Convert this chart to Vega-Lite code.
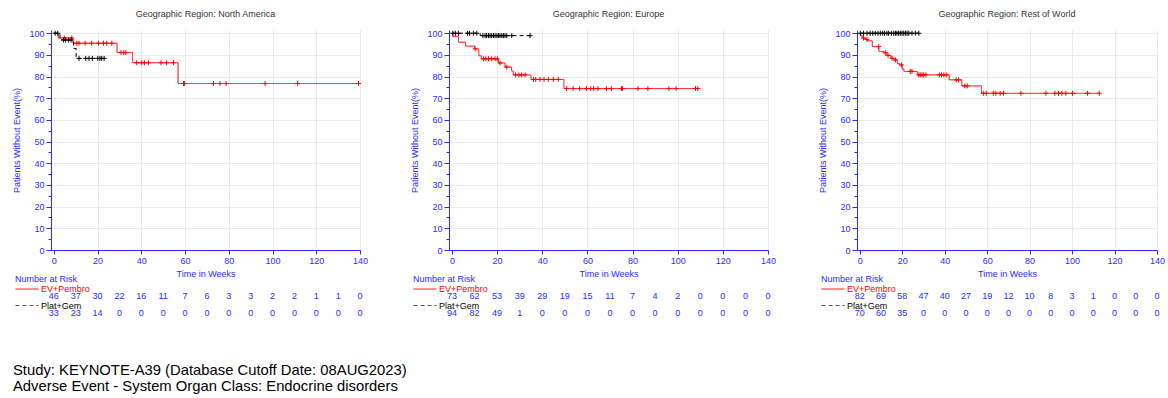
{
  "$schema": "https://vega.github.io/schema/vega-lite/v6.json",
  "background": "white",
  "padding": {"left": 12, "top": 9, "right": 0, "bottom": 0},
  "autosize": {"type": "pad"},
  "title": {
    "text": ["Study: KEYNOTE-A39 (Database Cutoff Date: 08AUG2023)", "Adverse Event - System Organ Class: Endocrine disorders"],
    "orient": "bottom", "anchor": "start", "fontSize": 14.8, "lineHeight": 15.5, "color": "#000000",
    "fontWeight": "normal", "font": "Liberation Sans", "offset": 41
  },
  "spacing": 42,
  "resolve": {"scale": {"x": "independent", "y": "independent", "color": "independent", "strokeDash": "independent"}},
  "datasets": {
    "km": [
      {"r": "NA", "arm": "EV+Pembro", "t": 0, "s": 100},
      {"r": "NA", "arm": "EV+Pembro", "t": 2.0, "s": 97.8},
      {"r": "NA", "arm": "EV+Pembro", "t": 8.7, "s": 95.4},
      {"r": "NA", "arm": "EV+Pembro", "t": 28.9, "s": 91.1},
      {"r": "NA", "arm": "EV+Pembro", "t": 36.0, "s": 86.4},
      {"r": "NA", "arm": "EV+Pembro", "t": 56.8, "s": 76.8},
      {"r": "NA", "arm": "EV+Pembro", "t": 139.3, "s": 76.8},
      {"r": "NA", "arm": "Plat+Gem", "t": 0, "s": 100},
      {"r": "NA", "arm": "Plat+Gem", "t": 2.8, "s": 96.9},
      {"r": "NA", "arm": "Plat+Gem", "t": 9.0, "s": 93.0},
      {"r": "NA", "arm": "Plat+Gem", "t": 10.2, "s": 88.4},
      {"r": "NA", "arm": "Plat+Gem", "t": 23.0, "s": 88.4},
      {"r": "EU", "arm": "EV+Pembro", "t": 0, "s": 100},
      {"r": "EU", "arm": "EV+Pembro", "t": 0.3, "s": 98.6},
      {"r": "EU", "arm": "EV+Pembro", "t": 2.9, "s": 95.9},
      {"r": "EU", "arm": "EV+Pembro", "t": 6.0, "s": 94.1},
      {"r": "EU", "arm": "EV+Pembro", "t": 10.0, "s": 92.8},
      {"r": "EU", "arm": "EV+Pembro", "t": 11.9, "s": 89.6},
      {"r": "EU", "arm": "EV+Pembro", "t": 13.0, "s": 88.2},
      {"r": "EU", "arm": "EV+Pembro", "t": 20.6, "s": 86.3},
      {"r": "EU", "arm": "EV+Pembro", "t": 23.5, "s": 84.4},
      {"r": "EU", "arm": "EV+Pembro", "t": 26.4, "s": 82.6},
      {"r": "EU", "arm": "EV+Pembro", "t": 27.2, "s": 80.8},
      {"r": "EU", "arm": "EV+Pembro", "t": 35.0, "s": 78.7},
      {"r": "EU", "arm": "EV+Pembro", "t": 49.6, "s": 74.5},
      {"r": "EU", "arm": "EV+Pembro", "t": 108.9, "s": 74.5},
      {"r": "EU", "arm": "Plat+Gem", "t": 0, "s": 100},
      {"r": "EU", "arm": "Plat+Gem", "t": 12.5, "s": 98.9},
      {"r": "EU", "arm": "Plat+Gem", "t": 34.6, "s": 98.9},
      {"r": "RW", "arm": "EV+Pembro", "t": 0, "s": 100},
      {"r": "RW", "arm": "EV+Pembro", "t": 0.4, "s": 98.8},
      {"r": "RW", "arm": "EV+Pembro", "t": 1.3, "s": 97.8},
      {"r": "RW", "arm": "EV+Pembro", "t": 2.5, "s": 97.2},
      {"r": "RW", "arm": "EV+Pembro", "t": 3.5, "s": 96.5},
      {"r": "RW", "arm": "EV+Pembro", "t": 5.9, "s": 93.9},
      {"r": "RW", "arm": "EV+Pembro", "t": 9.0, "s": 91.6},
      {"r": "RW", "arm": "EV+Pembro", "t": 11.4, "s": 91.0},
      {"r": "RW", "arm": "EV+Pembro", "t": 12.7, "s": 89.8},
      {"r": "RW", "arm": "EV+Pembro", "t": 14.6, "s": 88.5},
      {"r": "RW", "arm": "EV+Pembro", "t": 16.1, "s": 87.7},
      {"r": "RW", "arm": "EV+Pembro", "t": 17.7, "s": 86.0},
      {"r": "RW", "arm": "EV+Pembro", "t": 18.8, "s": 85.4},
      {"r": "RW", "arm": "EV+Pembro", "t": 20.0, "s": 83.6},
      {"r": "RW", "arm": "EV+Pembro", "t": 20.8, "s": 82.4},
      {"r": "RW", "arm": "EV+Pembro", "t": 27.1, "s": 80.8},
      {"r": "RW", "arm": "EV+Pembro", "t": 42.1, "s": 78.5},
      {"r": "RW", "arm": "EV+Pembro", "t": 48.1, "s": 75.7},
      {"r": "RW", "arm": "EV+Pembro", "t": 57.3, "s": 72.3},
      {"r": "RW", "arm": "EV+Pembro", "t": 112.8, "s": 72.3},
      {"r": "RW", "arm": "Plat+Gem", "t": 0, "s": 100},
      {"r": "RW", "arm": "Plat+Gem", "t": 27.8, "s": 100}
    ],
    "cens": [
      {"r": "NA", "arm": "EV+Pembro", "t": 4.8, "s": 97.8},
      {"r": "NA", "arm": "EV+Pembro", "t": 8.2, "s": 97.8},
      {"r": "NA", "arm": "EV+Pembro", "t": 10.5, "s": 95.4},
      {"r": "NA", "arm": "EV+Pembro", "t": 11.5, "s": 95.4},
      {"r": "NA", "arm": "EV+Pembro", "t": 14.3, "s": 95.4},
      {"r": "NA", "arm": "EV+Pembro", "t": 17.3, "s": 95.4},
      {"r": "NA", "arm": "EV+Pembro", "t": 20.4, "s": 95.4},
      {"r": "NA", "arm": "EV+Pembro", "t": 22.7, "s": 95.4},
      {"r": "NA", "arm": "EV+Pembro", "t": 24.2, "s": 95.4},
      {"r": "NA", "arm": "EV+Pembro", "t": 26.5, "s": 95.4},
      {"r": "NA", "arm": "EV+Pembro", "t": 30.7, "s": 91.1},
      {"r": "NA", "arm": "EV+Pembro", "t": 32.0, "s": 91.1},
      {"r": "NA", "arm": "EV+Pembro", "t": 32.9, "s": 91.1},
      {"r": "NA", "arm": "EV+Pembro", "t": 37.9, "s": 86.4},
      {"r": "NA", "arm": "EV+Pembro", "t": 40.2, "s": 86.4},
      {"r": "NA", "arm": "EV+Pembro", "t": 41.4, "s": 86.4},
      {"r": "NA", "arm": "EV+Pembro", "t": 43.3, "s": 86.4},
      {"r": "NA", "arm": "EV+Pembro", "t": 49.0, "s": 86.4},
      {"r": "NA", "arm": "EV+Pembro", "t": 51.6, "s": 86.4},
      {"r": "NA", "arm": "EV+Pembro", "t": 54.7, "s": 86.4},
      {"r": "NA", "arm": "EV+Pembro", "t": 59.3, "s": 76.8},
      {"r": "NA", "arm": "EV+Pembro", "t": 59.7, "s": 76.8},
      {"r": "NA", "arm": "EV+Pembro", "t": 73.0, "s": 76.8},
      {"r": "NA", "arm": "EV+Pembro", "t": 76.0, "s": 76.8},
      {"r": "NA", "arm": "EV+Pembro", "t": 78.8, "s": 76.8},
      {"r": "NA", "arm": "EV+Pembro", "t": 96.6, "s": 76.8},
      {"r": "NA", "arm": "EV+Pembro", "t": 111.5, "s": 76.8},
      {"r": "NA", "arm": "EV+Pembro", "t": 139.3, "s": 76.8},
      {"r": "NA", "arm": "Plat+Gem", "t": 0.6, "s": 100},
      {"r": "NA", "arm": "Plat+Gem", "t": 1.8, "s": 100},
      {"r": "NA", "arm": "Plat+Gem", "t": 4.4, "s": 96.9},
      {"r": "NA", "arm": "Plat+Gem", "t": 5.4, "s": 96.9},
      {"r": "NA", "arm": "Plat+Gem", "t": 6.7, "s": 96.9},
      {"r": "NA", "arm": "Plat+Gem", "t": 7.9, "s": 96.9},
      {"r": "NA", "arm": "Plat+Gem", "t": 11.5, "s": 88.4},
      {"r": "NA", "arm": "Plat+Gem", "t": 14.6, "s": 88.4},
      {"r": "NA", "arm": "Plat+Gem", "t": 16.1, "s": 88.4},
      {"r": "NA", "arm": "Plat+Gem", "t": 17.6, "s": 88.4},
      {"r": "NA", "arm": "Plat+Gem", "t": 20.1, "s": 88.4},
      {"r": "NA", "arm": "Plat+Gem", "t": 21.1, "s": 88.4},
      {"r": "NA", "arm": "Plat+Gem", "t": 21.9, "s": 88.4},
      {"r": "NA", "arm": "Plat+Gem", "t": 23.0, "s": 88.4},
      {"r": "EU", "arm": "EV+Pembro", "t": 10.3, "s": 92.8},
      {"r": "EU", "arm": "EV+Pembro", "t": 14.0, "s": 88.2},
      {"r": "EU", "arm": "EV+Pembro", "t": 15.0, "s": 88.2},
      {"r": "EU", "arm": "EV+Pembro", "t": 16.2, "s": 88.2},
      {"r": "EU", "arm": "EV+Pembro", "t": 17.6, "s": 88.2},
      {"r": "EU", "arm": "EV+Pembro", "t": 19.1, "s": 88.2},
      {"r": "EU", "arm": "EV+Pembro", "t": 20.1, "s": 88.2},
      {"r": "EU", "arm": "EV+Pembro", "t": 21.3, "s": 86.3},
      {"r": "EU", "arm": "EV+Pembro", "t": 24.3, "s": 84.4},
      {"r": "EU", "arm": "EV+Pembro", "t": 28.2, "s": 80.8},
      {"r": "EU", "arm": "EV+Pembro", "t": 29.7, "s": 80.8},
      {"r": "EU", "arm": "EV+Pembro", "t": 30.9, "s": 80.8},
      {"r": "EU", "arm": "EV+Pembro", "t": 32.4, "s": 80.8},
      {"r": "EU", "arm": "EV+Pembro", "t": 36.1, "s": 78.7},
      {"r": "EU", "arm": "EV+Pembro", "t": 37.1, "s": 78.7},
      {"r": "EU", "arm": "EV+Pembro", "t": 39.0, "s": 78.7},
      {"r": "EU", "arm": "EV+Pembro", "t": 40.8, "s": 78.7},
      {"r": "EU", "arm": "EV+Pembro", "t": 42.7, "s": 78.7},
      {"r": "EU", "arm": "EV+Pembro", "t": 44.9, "s": 78.7},
      {"r": "EU", "arm": "EV+Pembro", "t": 47.1, "s": 78.7},
      {"r": "EU", "arm": "EV+Pembro", "t": 50.8, "s": 74.5},
      {"r": "EU", "arm": "EV+Pembro", "t": 53.7, "s": 74.5},
      {"r": "EU", "arm": "EV+Pembro", "t": 56.6, "s": 74.5},
      {"r": "EU", "arm": "EV+Pembro", "t": 59.6, "s": 74.5},
      {"r": "EU", "arm": "EV+Pembro", "t": 61.5, "s": 74.5},
      {"r": "EU", "arm": "EV+Pembro", "t": 62.8, "s": 74.5},
      {"r": "EU", "arm": "EV+Pembro", "t": 64.7, "s": 74.5},
      {"r": "EU", "arm": "EV+Pembro", "t": 68.4, "s": 74.5},
      {"r": "EU", "arm": "EV+Pembro", "t": 70.6, "s": 74.5},
      {"r": "EU", "arm": "EV+Pembro", "t": 75.1, "s": 74.5},
      {"r": "EU", "arm": "EV+Pembro", "t": 75.5, "s": 74.5},
      {"r": "EU", "arm": "EV+Pembro", "t": 82.4, "s": 74.5},
      {"r": "EU", "arm": "EV+Pembro", "t": 86.8, "s": 74.5},
      {"r": "EU", "arm": "EV+Pembro", "t": 96.1, "s": 74.5},
      {"r": "EU", "arm": "EV+Pembro", "t": 99.3, "s": 74.5},
      {"r": "EU", "arm": "EV+Pembro", "t": 107.9, "s": 74.5},
      {"r": "EU", "arm": "EV+Pembro", "t": 108.9, "s": 74.5},
      {"r": "EU", "arm": "Plat+Gem", "t": 0.4, "s": 100},
      {"r": "EU", "arm": "Plat+Gem", "t": 1.5, "s": 100},
      {"r": "EU", "arm": "Plat+Gem", "t": 2.9, "s": 100},
      {"r": "EU", "arm": "Plat+Gem", "t": 6.9, "s": 100},
      {"r": "EU", "arm": "Plat+Gem", "t": 7.8, "s": 100},
      {"r": "EU", "arm": "Plat+Gem", "t": 9.5, "s": 100},
      {"r": "EU", "arm": "Plat+Gem", "t": 11.0, "s": 100},
      {"r": "EU", "arm": "Plat+Gem", "t": 13.7, "s": 98.9},
      {"r": "EU", "arm": "Plat+Gem", "t": 14.7, "s": 98.9},
      {"r": "EU", "arm": "Plat+Gem", "t": 15.4, "s": 98.9},
      {"r": "EU", "arm": "Plat+Gem", "t": 16.2, "s": 98.9},
      {"r": "EU", "arm": "Plat+Gem", "t": 16.9, "s": 98.9},
      {"r": "EU", "arm": "Plat+Gem", "t": 17.6, "s": 98.9},
      {"r": "EU", "arm": "Plat+Gem", "t": 18.4, "s": 98.9},
      {"r": "EU", "arm": "Plat+Gem", "t": 19.1, "s": 98.9},
      {"r": "EU", "arm": "Plat+Gem", "t": 19.9, "s": 98.9},
      {"r": "EU", "arm": "Plat+Gem", "t": 20.6, "s": 98.9},
      {"r": "EU", "arm": "Plat+Gem", "t": 21.3, "s": 98.9},
      {"r": "EU", "arm": "Plat+Gem", "t": 22.1, "s": 98.9},
      {"r": "EU", "arm": "Plat+Gem", "t": 22.8, "s": 98.9},
      {"r": "EU", "arm": "Plat+Gem", "t": 23.5, "s": 98.9},
      {"r": "EU", "arm": "Plat+Gem", "t": 24.3, "s": 98.9},
      {"r": "EU", "arm": "Plat+Gem", "t": 26.5, "s": 98.9},
      {"r": "EU", "arm": "Plat+Gem", "t": 34.6, "s": 98.9},
      {"r": "RW", "arm": "EV+Pembro", "t": 1.8, "s": 97.8},
      {"r": "RW", "arm": "EV+Pembro", "t": 3.4, "s": 97.2},
      {"r": "RW", "arm": "EV+Pembro", "t": 8.9, "s": 93.9},
      {"r": "RW", "arm": "EV+Pembro", "t": 12.0, "s": 91.0},
      {"r": "RW", "arm": "EV+Pembro", "t": 13.3, "s": 89.8},
      {"r": "RW", "arm": "EV+Pembro", "t": 15.2, "s": 88.5},
      {"r": "RW", "arm": "EV+Pembro", "t": 16.8, "s": 87.7},
      {"r": "RW", "arm": "EV+Pembro", "t": 19.6, "s": 85.4},
      {"r": "RW", "arm": "EV+Pembro", "t": 23.8, "s": 82.4},
      {"r": "RW", "arm": "EV+Pembro", "t": 24.6, "s": 82.4},
      {"r": "RW", "arm": "EV+Pembro", "t": 27.8, "s": 80.8},
      {"r": "RW", "arm": "EV+Pembro", "t": 28.5, "s": 80.8},
      {"r": "RW", "arm": "EV+Pembro", "t": 29.3, "s": 80.8},
      {"r": "RW", "arm": "EV+Pembro", "t": 30.1, "s": 80.8},
      {"r": "RW", "arm": "EV+Pembro", "t": 31.2, "s": 80.8},
      {"r": "RW", "arm": "EV+Pembro", "t": 37.5, "s": 80.8},
      {"r": "RW", "arm": "EV+Pembro", "t": 38.5, "s": 80.8},
      {"r": "RW", "arm": "EV+Pembro", "t": 39.6, "s": 80.8},
      {"r": "RW", "arm": "EV+Pembro", "t": 40.7, "s": 80.8},
      {"r": "RW", "arm": "EV+Pembro", "t": 45.4, "s": 78.5},
      {"r": "RW", "arm": "EV+Pembro", "t": 46.5, "s": 78.5},
      {"r": "RW", "arm": "EV+Pembro", "t": 49.5, "s": 75.7},
      {"r": "RW", "arm": "EV+Pembro", "t": 50.6, "s": 75.7},
      {"r": "RW", "arm": "EV+Pembro", "t": 58.2, "s": 72.3},
      {"r": "RW", "arm": "EV+Pembro", "t": 59.6, "s": 72.3},
      {"r": "RW", "arm": "EV+Pembro", "t": 62.9, "s": 72.3},
      {"r": "RW", "arm": "EV+Pembro", "t": 64.1, "s": 72.3},
      {"r": "RW", "arm": "EV+Pembro", "t": 66.1, "s": 72.3},
      {"r": "RW", "arm": "EV+Pembro", "t": 67.7, "s": 72.3},
      {"r": "RW", "arm": "EV+Pembro", "t": 75.9, "s": 72.3},
      {"r": "RW", "arm": "EV+Pembro", "t": 87.7, "s": 72.3},
      {"r": "RW", "arm": "EV+Pembro", "t": 91.9, "s": 72.3},
      {"r": "RW", "arm": "EV+Pembro", "t": 93.6, "s": 72.3},
      {"r": "RW", "arm": "EV+Pembro", "t": 95.2, "s": 72.3},
      {"r": "RW", "arm": "EV+Pembro", "t": 97.1, "s": 72.3},
      {"r": "RW", "arm": "EV+Pembro", "t": 100.2, "s": 72.3},
      {"r": "RW", "arm": "EV+Pembro", "t": 107.3, "s": 72.3},
      {"r": "RW", "arm": "EV+Pembro", "t": 112.8, "s": 72.3},
      {"r": "RW", "arm": "Plat+Gem", "t": 0.3, "s": 100},
      {"r": "RW", "arm": "Plat+Gem", "t": 1.8, "s": 100},
      {"r": "RW", "arm": "Plat+Gem", "t": 3.4, "s": 100},
      {"r": "RW", "arm": "Plat+Gem", "t": 4.9, "s": 100},
      {"r": "RW", "arm": "Plat+Gem", "t": 6.1, "s": 100},
      {"r": "RW", "arm": "Plat+Gem", "t": 7.3, "s": 100},
      {"r": "RW", "arm": "Plat+Gem", "t": 8.6, "s": 100},
      {"r": "RW", "arm": "Plat+Gem", "t": 9.7, "s": 100},
      {"r": "RW", "arm": "Plat+Gem", "t": 10.8, "s": 100},
      {"r": "RW", "arm": "Plat+Gem", "t": 11.7, "s": 100},
      {"r": "RW", "arm": "Plat+Gem", "t": 12.8, "s": 100},
      {"r": "RW", "arm": "Plat+Gem", "t": 13.6, "s": 100},
      {"r": "RW", "arm": "Plat+Gem", "t": 14.9, "s": 100},
      {"r": "RW", "arm": "Plat+Gem", "t": 16.0, "s": 100},
      {"r": "RW", "arm": "Plat+Gem", "t": 16.8, "s": 100},
      {"r": "RW", "arm": "Plat+Gem", "t": 17.5, "s": 100},
      {"r": "RW", "arm": "Plat+Gem", "t": 18.3, "s": 100},
      {"r": "RW", "arm": "Plat+Gem", "t": 19.1, "s": 100},
      {"r": "RW", "arm": "Plat+Gem", "t": 19.9, "s": 100},
      {"r": "RW", "arm": "Plat+Gem", "t": 20.7, "s": 100},
      {"r": "RW", "arm": "Plat+Gem", "t": 21.5, "s": 100},
      {"r": "RW", "arm": "Plat+Gem", "t": 22.3, "s": 100},
      {"r": "RW", "arm": "Plat+Gem", "t": 23.1, "s": 100},
      {"r": "RW", "arm": "Plat+Gem", "t": 24.6, "s": 100},
      {"r": "RW", "arm": "Plat+Gem", "t": 26.2, "s": 100},
      {"r": "RW", "arm": "Plat+Gem", "t": 27.8, "s": 100}
    ],
    "risk": [
      {"r": "NA", "arm": "EV+Pembro", "t": 0, "n": 46}, {"r": "NA", "arm": "EV+Pembro", "t": 10, "n": 37}, {"r": "NA", "arm": "EV+Pembro", "t": 20, "n": 30}, {"r": "NA", "arm": "EV+Pembro", "t": 30, "n": 22}, {"r": "NA", "arm": "EV+Pembro", "t": 40, "n": 16}, {"r": "NA", "arm": "EV+Pembro", "t": 50, "n": 11}, {"r": "NA", "arm": "EV+Pembro", "t": 60, "n": 7}, {"r": "NA", "arm": "EV+Pembro", "t": 70, "n": 6}, {"r": "NA", "arm": "EV+Pembro", "t": 80, "n": 3}, {"r": "NA", "arm": "EV+Pembro", "t": 90, "n": 3}, {"r": "NA", "arm": "EV+Pembro", "t": 100, "n": 2}, {"r": "NA", "arm": "EV+Pembro", "t": 110, "n": 2}, {"r": "NA", "arm": "EV+Pembro", "t": 120, "n": 1}, {"r": "NA", "arm": "EV+Pembro", "t": 130, "n": 1}, {"r": "NA", "arm": "EV+Pembro", "t": 140, "n": 0},
      {"r": "NA", "arm": "Plat+Gem", "t": 0, "n": 33}, {"r": "NA", "arm": "Plat+Gem", "t": 10, "n": 23}, {"r": "NA", "arm": "Plat+Gem", "t": 20, "n": 14}, {"r": "NA", "arm": "Plat+Gem", "t": 30, "n": 0}, {"r": "NA", "arm": "Plat+Gem", "t": 40, "n": 0}, {"r": "NA", "arm": "Plat+Gem", "t": 50, "n": 0}, {"r": "NA", "arm": "Plat+Gem", "t": 60, "n": 0}, {"r": "NA", "arm": "Plat+Gem", "t": 70, "n": 0}, {"r": "NA", "arm": "Plat+Gem", "t": 80, "n": 0}, {"r": "NA", "arm": "Plat+Gem", "t": 90, "n": 0}, {"r": "NA", "arm": "Plat+Gem", "t": 100, "n": 0}, {"r": "NA", "arm": "Plat+Gem", "t": 110, "n": 0}, {"r": "NA", "arm": "Plat+Gem", "t": 120, "n": 0}, {"r": "NA", "arm": "Plat+Gem", "t": 130, "n": 0}, {"r": "NA", "arm": "Plat+Gem", "t": 140, "n": 0},
      {"r": "EU", "arm": "EV+Pembro", "t": 0, "n": 73}, {"r": "EU", "arm": "EV+Pembro", "t": 10, "n": 62}, {"r": "EU", "arm": "EV+Pembro", "t": 20, "n": 53}, {"r": "EU", "arm": "EV+Pembro", "t": 30, "n": 39}, {"r": "EU", "arm": "EV+Pembro", "t": 40, "n": 29}, {"r": "EU", "arm": "EV+Pembro", "t": 50, "n": 19}, {"r": "EU", "arm": "EV+Pembro", "t": 60, "n": 15}, {"r": "EU", "arm": "EV+Pembro", "t": 70, "n": 11}, {"r": "EU", "arm": "EV+Pembro", "t": 80, "n": 7}, {"r": "EU", "arm": "EV+Pembro", "t": 90, "n": 4}, {"r": "EU", "arm": "EV+Pembro", "t": 100, "n": 2}, {"r": "EU", "arm": "EV+Pembro", "t": 110, "n": 0}, {"r": "EU", "arm": "EV+Pembro", "t": 120, "n": 0}, {"r": "EU", "arm": "EV+Pembro", "t": 130, "n": 0}, {"r": "EU", "arm": "EV+Pembro", "t": 140, "n": 0},
      {"r": "EU", "arm": "Plat+Gem", "t": 0, "n": 94}, {"r": "EU", "arm": "Plat+Gem", "t": 10, "n": 82}, {"r": "EU", "arm": "Plat+Gem", "t": 20, "n": 49}, {"r": "EU", "arm": "Plat+Gem", "t": 30, "n": 1}, {"r": "EU", "arm": "Plat+Gem", "t": 40, "n": 0}, {"r": "EU", "arm": "Plat+Gem", "t": 50, "n": 0}, {"r": "EU", "arm": "Plat+Gem", "t": 60, "n": 0}, {"r": "EU", "arm": "Plat+Gem", "t": 70, "n": 0}, {"r": "EU", "arm": "Plat+Gem", "t": 80, "n": 0}, {"r": "EU", "arm": "Plat+Gem", "t": 90, "n": 0}, {"r": "EU", "arm": "Plat+Gem", "t": 100, "n": 0}, {"r": "EU", "arm": "Plat+Gem", "t": 110, "n": 0}, {"r": "EU", "arm": "Plat+Gem", "t": 120, "n": 0}, {"r": "EU", "arm": "Plat+Gem", "t": 130, "n": 0}, {"r": "EU", "arm": "Plat+Gem", "t": 140, "n": 0},
      {"r": "RW", "arm": "EV+Pembro", "t": 0, "n": 82}, {"r": "RW", "arm": "EV+Pembro", "t": 10, "n": 69}, {"r": "RW", "arm": "EV+Pembro", "t": 20, "n": 58}, {"r": "RW", "arm": "EV+Pembro", "t": 30, "n": 47}, {"r": "RW", "arm": "EV+Pembro", "t": 40, "n": 40}, {"r": "RW", "arm": "EV+Pembro", "t": 50, "n": 27}, {"r": "RW", "arm": "EV+Pembro", "t": 60, "n": 19}, {"r": "RW", "arm": "EV+Pembro", "t": 70, "n": 12}, {"r": "RW", "arm": "EV+Pembro", "t": 80, "n": 10}, {"r": "RW", "arm": "EV+Pembro", "t": 90, "n": 8}, {"r": "RW", "arm": "EV+Pembro", "t": 100, "n": 3}, {"r": "RW", "arm": "EV+Pembro", "t": 110, "n": 1}, {"r": "RW", "arm": "EV+Pembro", "t": 120, "n": 0}, {"r": "RW", "arm": "EV+Pembro", "t": 130, "n": 0}, {"r": "RW", "arm": "EV+Pembro", "t": 140, "n": 0},
      {"r": "RW", "arm": "Plat+Gem", "t": 0, "n": 70}, {"r": "RW", "arm": "Plat+Gem", "t": 10, "n": 60}, {"r": "RW", "arm": "Plat+Gem", "t": 20, "n": 35}, {"r": "RW", "arm": "Plat+Gem", "t": 30, "n": 0}, {"r": "RW", "arm": "Plat+Gem", "t": 40, "n": 0}, {"r": "RW", "arm": "Plat+Gem", "t": 50, "n": 0}, {"r": "RW", "arm": "Plat+Gem", "t": 60, "n": 0}, {"r": "RW", "arm": "Plat+Gem", "t": 70, "n": 0}, {"r": "RW", "arm": "Plat+Gem", "t": 80, "n": 0}, {"r": "RW", "arm": "Plat+Gem", "t": 90, "n": 0}, {"r": "RW", "arm": "Plat+Gem", "t": 100, "n": 0}, {"r": "RW", "arm": "Plat+Gem", "t": 110, "n": 0}, {"r": "RW", "arm": "Plat+Gem", "t": 120, "n": 0}, {"r": "RW", "arm": "Plat+Gem", "t": 130, "n": 0}, {"r": "RW", "arm": "Plat+Gem", "t": 140, "n": 0}
    ]
  },
  "hconcat": [
    {
      "bounds": "flush", "spacing": 37,
      "resolve": {"scale": {"x": "independent", "y": "independent", "color": "independent", "strokeDash": "independent"}},
      "vconcat": [
        {
          "width": 309, "height": 220,
          "title": {"text": "Geographic Region: North America"},
          "resolve": {"axis": {"y": "independent"}},
          "layer": [
            {
              "data": {"name": "km"}, "transform": [{"filter": "datum.r == 'NA'"}],
              "mark": {"type": "line", "interpolate": "step-after", "strokeWidth": 1},
              "encoding": {
                "x": {"field": "t", "type": "quantitative", "scale": {"domain": [-1.3, 140], "nice": false, "zero": false}, "axis": {"values": [0,10,20,30,40,50,60,70,80,90,100,110,120,130,140], "title": "Time in Weeks", "grid": true, "gridOpacity": {"condition": {"test": "datum.value == 0", "value": 0}, "value": 1}}},
                "y": {"field": "s", "type": "quantitative", "scale": {"domain": [0, 101.5], "nice": false, "zero": false}, "axis": {"values": [0,10,20,30,40,50,60,70,80,90,100], "title": "Patients Without Event(%)", "grid": true}},
                "color": {"field": "arm", "type": "nominal", "scale": {"domain": ["EV+Pembro", "Plat+Gem"], "range": ["#ff0000", "#000000"]}, "legend": null},
                "strokeDash": {"field": "arm", "type": "nominal", "scale": {"domain": ["EV+Pembro", "Plat+Gem"], "range": [[1, 0], [4, 3]]}, "legend": null}
              }
            },
            {
              "data": {"name": "cens"}, "transform": [{"filter": "datum.r == 'NA'"}],
              "mark": {"type": "point", "shape": "M-1,0H1M0,-1V1", "filled": false, "size": 25, "strokeWidth": 1, "opacity": 1},
              "encoding": {
                "x": {"field": "t", "type": "quantitative"},
                "y": {"field": "s", "type": "quantitative", "axis": {"orient": "left", "values": [5,15,25,35,45,55,65,75,85,95], "labels": false, "domain": false, "grid": false, "tickSize": 3, "title": null}},
                "color": {"field": "arm", "type": "nominal", "legend": null}
              }
            }
          ]
        },
        {
          "width": 309, "height": 35,
          "layer": [
            {
              "data": {"name": "risk"}, "transform": [{"filter": "datum.r == 'NA'"}],
              "mark": {"type": "text", "fontSize": 9, "color": "#2a2aff"},
              "encoding": {
                "x": {"field": "t", "type": "quantitative", "scale": {"domain": [-1.3, 140], "nice": false, "zero": false}, "axis": null},
                "y": {"field": "arm", "type": "nominal", "scale": {"domain": ["EV+Pembro", "Plat+Gem"], "padding": 0.5}, "axis": null},
                "text": {"field": "n", "type": "quantitative"}
              }
            },
            {
              "data": {"name": "risk"}, "transform": [{"filter": "datum.n < 0"}],
              "mark": {"type": "line", "strokeWidth": 1},
              "encoding": {
                "x": {"field": "t", "type": "quantitative"},
                "y": {"field": "arm", "type": "nominal"},
                "color": {"field": "arm", "type": "nominal", "scale": {"domain": ["EV+Pembro", "Plat+Gem"], "range": ["#ff0000", "#555555"]}, "legend": {"orient": "none", "legendX": -36, "legendY": -12, "title": "Number at Risk", "encode": {"labels": {"update": {"fill": {"signal": "datum.label == 'EV+Pembro' ? '#ff0000' : '#000000'"}}}}}},
                "strokeDash": {"field": "arm", "type": "nominal", "scale": {"domain": ["EV+Pembro", "Plat+Gem"], "range": [[1, 0], [4, 3]]}, "legend": {"orient": "none", "legendX": -36, "legendY": -12, "title": "Number at Risk", "encode": {"labels": {"update": {"fill": {"signal": "datum.label == 'EV+Pembro' ? '#ff0000' : '#000000'"}}}}}}
              }
            }
          ]
        }
      ]
    },
    {
      "bounds": "flush", "spacing": 37,
      "resolve": {"scale": {"x": "independent", "y": "independent", "color": "independent", "strokeDash": "independent"}},
      "vconcat": [
        {
          "width": 319, "height": 220,
          "title": {"text": "Geographic Region: Europe"},
          "resolve": {"axis": {"y": "independent"}},
          "layer": [
            {
              "data": {"name": "km"}, "transform": [{"filter": "datum.r == 'EU'"}],
              "mark": {"type": "line", "interpolate": "step-after", "strokeWidth": 1},
              "encoding": {
                "x": {"field": "t", "type": "quantitative", "scale": {"domain": [-1.3, 140], "nice": false, "zero": false}, "axis": {"values": [0,10,20,30,40,50,60,70,80,90,100,110,120,130,140], "title": "Time in Weeks", "grid": true, "gridOpacity": {"condition": {"test": "datum.value == 0", "value": 0}, "value": 1}}},
                "y": {"field": "s", "type": "quantitative", "scale": {"domain": [0, 101.5], "nice": false, "zero": false}, "axis": {"values": [0,10,20,30,40,50,60,70,80,90,100], "title": "Patients Without Event(%)", "grid": true}},
                "color": {"field": "arm", "type": "nominal", "scale": {"domain": ["EV+Pembro", "Plat+Gem"], "range": ["#ff0000", "#000000"]}, "legend": null},
                "strokeDash": {"field": "arm", "type": "nominal", "scale": {"domain": ["EV+Pembro", "Plat+Gem"], "range": [[1, 0], [4, 3]]}, "legend": null}
              }
            },
            {
              "data": {"name": "cens"}, "transform": [{"filter": "datum.r == 'EU'"}],
              "mark": {"type": "point", "shape": "M-1,0H1M0,-1V1", "filled": false, "size": 25, "strokeWidth": 1, "opacity": 1},
              "encoding": {
                "x": {"field": "t", "type": "quantitative"},
                "y": {"field": "s", "type": "quantitative", "axis": {"orient": "left", "values": [5,15,25,35,45,55,65,75,85,95], "labels": false, "domain": false, "grid": false, "tickSize": 3, "title": null}},
                "color": {"field": "arm", "type": "nominal", "legend": null}
              }
            }
          ]
        },
        {
          "width": 319, "height": 35,
          "layer": [
            {
              "data": {"name": "risk"}, "transform": [{"filter": "datum.r == 'EU'"}],
              "mark": {"type": "text", "fontSize": 9, "color": "#2a2aff"},
              "encoding": {
                "x": {"field": "t", "type": "quantitative", "scale": {"domain": [-1.3, 140], "nice": false, "zero": false}, "axis": null},
                "y": {"field": "arm", "type": "nominal", "scale": {"domain": ["EV+Pembro", "Plat+Gem"], "padding": 0.5}, "axis": null},
                "text": {"field": "n", "type": "quantitative"}
              }
            },
            {
              "data": {"name": "risk"}, "transform": [{"filter": "datum.n < 0"}],
              "mark": {"type": "line", "strokeWidth": 1},
              "encoding": {
                "x": {"field": "t", "type": "quantitative"},
                "y": {"field": "arm", "type": "nominal"},
                "color": {"field": "arm", "type": "nominal", "scale": {"domain": ["EV+Pembro", "Plat+Gem"], "range": ["#ff0000", "#555555"]}, "legend": {"orient": "none", "legendX": -36, "legendY": -12, "title": "Number at Risk", "encode": {"labels": {"update": {"fill": {"signal": "datum.label == 'EV+Pembro' ? '#ff0000' : '#000000'"}}}}}},
                "strokeDash": {"field": "arm", "type": "nominal", "scale": {"domain": ["EV+Pembro", "Plat+Gem"], "range": [[1, 0], [4, 3]]}, "legend": {"orient": "none", "legendX": -36, "legendY": -12, "title": "Number at Risk", "encode": {"labels": {"update": {"fill": {"signal": "datum.label == 'EV+Pembro' ? '#ff0000' : '#000000'"}}}}}}
              }
            }
          ]
        }
      ]
    },
    {
      "bounds": "flush", "spacing": 37,
      "resolve": {"scale": {"x": "independent", "y": "independent", "color": "independent", "strokeDash": "independent"}},
      "vconcat": [
        {
          "width": 300, "height": 220,
          "title": {"text": "Geographic Region: Rest of World"},
          "resolve": {"axis": {"y": "independent"}},
          "layer": [
            {
              "data": {"name": "km"}, "transform": [{"filter": "datum.r == 'RW'"}],
              "mark": {"type": "line", "interpolate": "step-after", "strokeWidth": 1},
              "encoding": {
                "x": {"field": "t", "type": "quantitative", "scale": {"domain": [-1.3, 140], "nice": false, "zero": false}, "axis": {"values": [0,10,20,30,40,50,60,70,80,90,100,110,120,130,140], "title": "Time in Weeks", "grid": true, "gridOpacity": {"condition": {"test": "datum.value == 0", "value": 0}, "value": 1}}},
                "y": {"field": "s", "type": "quantitative", "scale": {"domain": [0, 101.5], "nice": false, "zero": false}, "axis": {"values": [0,10,20,30,40,50,60,70,80,90,100], "title": "Patients Without Event(%)", "grid": true}},
                "color": {"field": "arm", "type": "nominal", "scale": {"domain": ["EV+Pembro", "Plat+Gem"], "range": ["#ff0000", "#000000"]}, "legend": null},
                "strokeDash": {"field": "arm", "type": "nominal", "scale": {"domain": ["EV+Pembro", "Plat+Gem"], "range": [[1, 0], [4, 3]]}, "legend": null}
              }
            },
            {
              "data": {"name": "cens"}, "transform": [{"filter": "datum.r == 'RW'"}],
              "mark": {"type": "point", "shape": "M-1,0H1M0,-1V1", "filled": false, "size": 25, "strokeWidth": 1, "opacity": 1},
              "encoding": {
                "x": {"field": "t", "type": "quantitative"},
                "y": {"field": "s", "type": "quantitative", "axis": {"orient": "left", "values": [5,15,25,35,45,55,65,75,85,95], "labels": false, "domain": false, "grid": false, "tickSize": 3, "title": null}},
                "color": {"field": "arm", "type": "nominal", "legend": null}
              }
            }
          ]
        },
        {
          "width": 300, "height": 35,
          "layer": [
            {
              "data": {"name": "risk"}, "transform": [{"filter": "datum.r == 'RW'"}],
              "mark": {"type": "text", "fontSize": 9, "color": "#2a2aff"},
              "encoding": {
                "x": {"field": "t", "type": "quantitative", "scale": {"domain": [-1.3, 140], "nice": false, "zero": false}, "axis": null},
                "y": {"field": "arm", "type": "nominal", "scale": {"domain": ["EV+Pembro", "Plat+Gem"], "padding": 0.5}, "axis": null},
                "text": {"field": "n", "type": "quantitative"}
              }
            },
            {
              "data": {"name": "risk"}, "transform": [{"filter": "datum.n < 0"}],
              "mark": {"type": "line", "strokeWidth": 1},
              "encoding": {
                "x": {"field": "t", "type": "quantitative"},
                "y": {"field": "arm", "type": "nominal"},
                "color": {"field": "arm", "type": "nominal", "scale": {"domain": ["EV+Pembro", "Plat+Gem"], "range": ["#ff0000", "#555555"]}, "legend": {"orient": "none", "legendX": -36, "legendY": -12, "title": "Number at Risk", "encode": {"labels": {"update": {"fill": {"signal": "datum.label == 'EV+Pembro' ? '#ff0000' : '#000000'"}}}}}},
                "strokeDash": {"field": "arm", "type": "nominal", "scale": {"domain": ["EV+Pembro", "Plat+Gem"], "range": [[1, 0], [4, 3]]}, "legend": {"orient": "none", "legendX": -36, "legendY": -12, "title": "Number at Risk", "encode": {"labels": {"update": {"fill": {"signal": "datum.label == 'EV+Pembro' ? '#ff0000' : '#000000'"}}}}}}
              }
            }
          ]
        }
      ]
    }
  ],
  "config": {
    "view": {"stroke": null},
    "font": "Liberation Sans",
    "axis": {
      "domainColor": "#2a2aff", "tickColor": "#2a2aff", "labelColor": "#2a2aff", "titleColor": "#2a2aff",
      "labelFontSize": 9, "titleFontSize": 9, "titleFontWeight": "normal", "gridColor": "#ebebeb", "gridWidth": 1,
      "tickSize": 5, "labelPadding": 2, "labelFont": "Liberation Sans", "titleFont": "Liberation Sans", "labelFlush": false
    },
    "axisX": {"tickSize": 4, "titlePadding": 4},
    "axisY": {"titlePadding": 7},
    "title": {"fontSize": 9, "fontWeight": "normal", "color": "#333333", "font": "Liberation Sans", "offset": 10},
    "legend": {
      "titleColor": "#2a2aff", "titleFontSize": 9, "titleFontWeight": "normal", "titleFont": "Liberation Sans", "titlePadding": 0,
      "labelFontSize": 9, "labelFont": "Liberation Sans", "symbolType": "stroke", "symbolSize": 529, "symbolStrokeWidth": 1,
      "clipHeight": 10, "rowPadding": 6.5, "labelOffset": 2, "padding": 0
    }
  }
}
